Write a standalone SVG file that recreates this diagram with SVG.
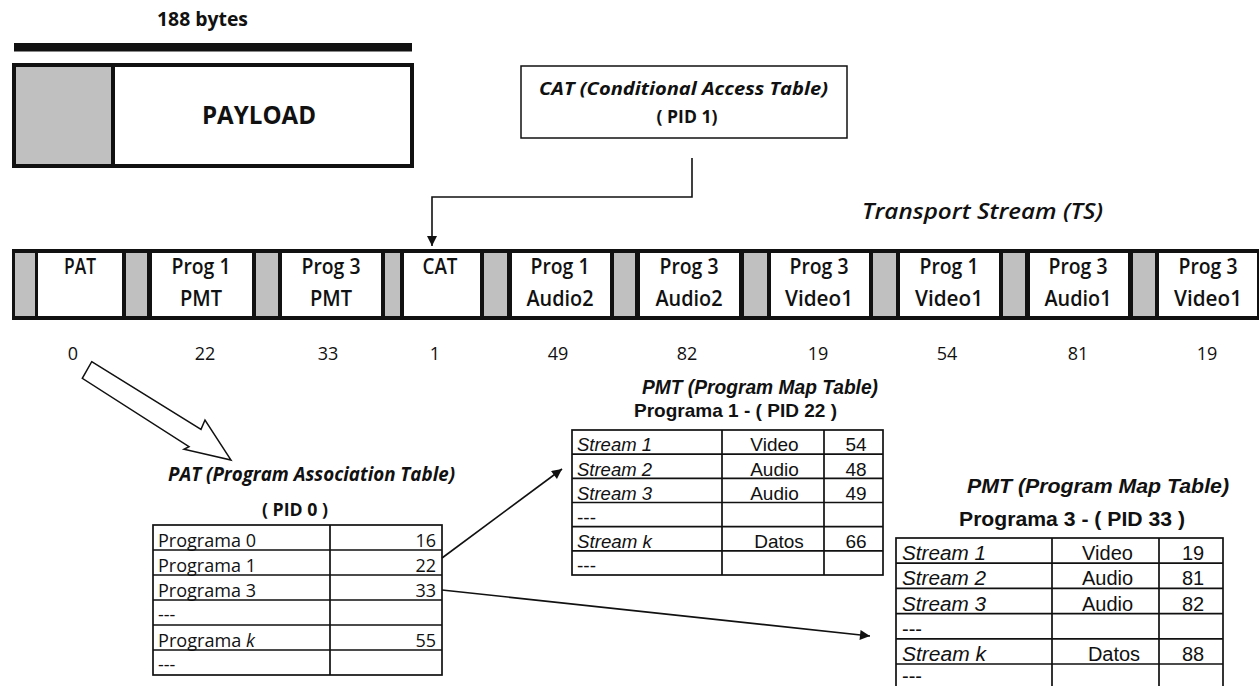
<svg xmlns="http://www.w3.org/2000/svg" width="1259" height="686" viewBox="0 0 1259 686">
  <defs>
    <style>
      .cal { font-family: "Open Sans", "Noto Sans", "DejaVu Sans", sans-serif; fill: #111; }
      .ari { font-family: "Liberation Sans", Arial, sans-serif; fill: #111; }
      .b { font-weight: 700; }
      .sb { font-weight: 600; }
      .i { font-style: italic; }
      .mid { text-anchor: middle; }
      .end { text-anchor: end; }
      .cell { font-size: 21px; }
      .pid { font-size: 18px; }
      .grid { fill: none; stroke: #111; stroke-width: 1.7; }
      .conn { fill: none; stroke: #111; stroke-width: 1.6; }
      .hdr { fill: #c0c0c0; }
      .pl { fill: #fff; }
    </style>
    <marker id="ah" viewBox="0 0 10 10" refX="10" refY="5" markerWidth="11" markerHeight="10" markerUnits="userSpaceOnUse" orient="auto">
      <path d="M0,0 L10,5 L0,10 z" fill="#111"/>
    </marker>
  </defs>

  <rect width="1259" height="686" fill="#fff"/>

  <!-- single 188-byte packet -->
  <g id="packet">
    <text class="cal b mid" x="202.5" y="26" font-size="19" textLength="91" lengthAdjust="spacingAndGlyphs">188 bytes</text>
    <rect x="14" y="43" width="398" height="8.5" fill="#111"/>
    <rect x="14" y="65" width="398" height="101" fill="#fff" stroke="#111" stroke-width="4"/>
    <rect x="16" y="67" width="97" height="97" class="hdr"/>
    <line x1="113" y1="65" x2="113" y2="166" stroke="#111" stroke-width="4"/>
    <text class="cal b mid" x="259" y="124" font-size="25" textLength="114" lengthAdjust="spacingAndGlyphs">PAYLOAD</text>
  </g>

  <!-- conditional access table -->
  <g id="cat-box">
    <rect x="521" y="66" width="326" height="72" fill="#fff" stroke="#111" stroke-width="1.5"/>
    <text class="cal b i mid" x="683.5" y="95" font-size="17" textLength="289" lengthAdjust="spacingAndGlyphs">CAT (Conditional Access Table)</text>
    <text class="cal b mid" x="687" y="123" font-size="17" textLength="61" lengthAdjust="spacingAndGlyphs">( PID 1)</text>
  </g>

  <g id="ts-label">
    <text class="cal sb i" x="862" y="219" font-size="22" textLength="241" lengthAdjust="spacingAndGlyphs">Transport Stream (TS)</text>
  </g>

  <!-- transport stream packets -->
  <g id="ts-row">
    <rect x="12" y="249" width="1250" height="71" fill="#111"/>
    <g class="hdr">
      <rect x="15" y="253" width="20" height="63"/>
      <rect x="126" y="253" width="21" height="63"/>
      <rect x="256" y="253" width="22" height="63"/>
      <rect x="385" y="253" width="15" height="63"/>
      <rect x="484" y="253" width="23" height="63"/>
      <rect x="614" y="253" width="21" height="63"/>
      <rect x="744" y="253" width="23" height="63"/>
      <rect x="873" y="253" width="23" height="63"/>
      <rect x="1003" y="253" width="22" height="63"/>
      <rect x="1133" y="253" width="22" height="63"/>
    </g>
    <g id="ts-pat">
      <rect class="pl" x="38" y="253" width="84" height="63"/>
      <text class="cal sb cell mid" x="80" y="274" textLength="32" lengthAdjust="spacingAndGlyphs">PAT</text>
    </g>
    <g id="ts-pmt1">
      <rect class="pl" x="152" y="253" width="100" height="63"/>
      <text class="cal sb cell mid" x="201" y="274" textLength="59" lengthAdjust="spacingAndGlyphs">Prog 1</text>
      <text class="cal sb cell mid" x="201" y="306" textLength="42" lengthAdjust="spacingAndGlyphs">PMT</text>
    </g>
    <g id="ts-pmt3">
      <rect class="pl" x="282" y="253" width="99" height="63"/>
      <text class="cal sb cell mid" x="331" y="274" textLength="59" lengthAdjust="spacingAndGlyphs">Prog 3</text>
      <text class="cal sb cell mid" x="331" y="306" textLength="42" lengthAdjust="spacingAndGlyphs">PMT</text>
    </g>
    <g id="ts-cat">
      <rect class="pl" x="404" y="253" width="76" height="63"/>
      <text class="cal sb cell mid" x="440" y="274" textLength="35" lengthAdjust="spacingAndGlyphs">CAT</text>
    </g>
    <g id="ts-p1a2">
      <rect class="pl" x="512" y="253" width="98" height="63"/>
      <text class="cal sb cell mid" x="560" y="274" textLength="59" lengthAdjust="spacingAndGlyphs">Prog 1</text>
      <text class="cal sb cell mid" x="560" y="306" textLength="67" lengthAdjust="spacingAndGlyphs">Audio2</text>
    </g>
    <g id="ts-p3a2">
      <rect class="pl" x="640" y="253" width="99" height="63"/>
      <text class="cal sb cell mid" x="689" y="274" textLength="59" lengthAdjust="spacingAndGlyphs">Prog 3</text>
      <text class="cal sb cell mid" x="689" y="306" textLength="67" lengthAdjust="spacingAndGlyphs">Audio2</text>
    </g>
    <g id="ts-p3v1a">
      <rect class="pl" x="771" y="253" width="98" height="63"/>
      <text class="cal sb cell mid" x="819" y="274" textLength="59" lengthAdjust="spacingAndGlyphs">Prog 3</text>
      <text class="cal sb cell mid" x="819" y="306" textLength="68" lengthAdjust="spacingAndGlyphs">Video1</text>
    </g>
    <g id="ts-p1v1">
      <rect class="pl" x="900" y="253" width="99" height="63"/>
      <text class="cal sb cell mid" x="949" y="274" textLength="59" lengthAdjust="spacingAndGlyphs">Prog 1</text>
      <text class="cal sb cell mid" x="949" y="306" textLength="68" lengthAdjust="spacingAndGlyphs">Video1</text>
    </g>
    <g id="ts-p3a1">
      <rect class="pl" x="1030" y="253" width="98" height="63"/>
      <text class="cal sb cell mid" x="1078" y="274" textLength="59" lengthAdjust="spacingAndGlyphs">Prog 3</text>
      <text class="cal sb cell mid" x="1078" y="306" textLength="67" lengthAdjust="spacingAndGlyphs">Audio1</text>
    </g>
    <g id="ts-p3v1b">
      <rect class="pl" x="1159" y="253" width="98" height="63"/>
      <text class="cal sb cell mid" x="1208" y="274" textLength="59" lengthAdjust="spacingAndGlyphs">Prog 3</text>
      <text class="cal sb cell mid" x="1208" y="306" textLength="68" lengthAdjust="spacingAndGlyphs">Video1</text>
    </g>
  </g>

  <!-- PID of each packet -->
  <g id="pid-row" class="cal pid mid">
    <text x="73" y="360">0</text>
    <text x="205" y="360">22</text>
    <text x="328" y="360">33</text>
    <text x="435" y="360">1</text>
    <text x="558" y="360">49</text>
    <text x="687" y="360">82</text>
    <text x="818" y="360">19</text>
    <text x="947" y="360">54</text>
    <text x="1078" y="360">81</text>
    <text x="1207" y="360">19</text>
  </g>

  <!-- program association table -->
  <g id="pat-table">
    <text class="cal b i mid" x="311.5" y="481" font-size="19" textLength="287" lengthAdjust="spacingAndGlyphs">PAT (Program Association Table)</text>
    <text class="cal b mid" x="295" y="516" font-size="18" textLength="66" lengthAdjust="spacingAndGlyphs">( PID 0 )</text>
    <rect class="grid" x="153" y="525" width="289" height="150"/>
    <path class="grid" d="M330,525V675 M153,550H442 M153,575H442 M153,600H442 M153,625H442 M153,650H442"/>
    <g class="cal" font-size="18">
      <text x="158" y="547" textLength="98" lengthAdjust="spacingAndGlyphs">Programa 0</text>
      <text x="158" y="572" textLength="98" lengthAdjust="spacingAndGlyphs">Programa 1</text>
      <text x="158" y="597" textLength="98" lengthAdjust="spacingAndGlyphs">Programa 3</text>
      <text x="158" y="621">---</text>
      <text x="158" y="647" textLength="97" lengthAdjust="spacingAndGlyphs">Programa <tspan font-style="italic">k</tspan></text>
      <text x="158" y="671">---</text>
      <text class="end" x="436" y="547">16</text>
      <text class="end" x="436" y="572">22</text>
      <text class="end" x="436" y="597">33</text>
      <text class="end" x="436" y="647">55</text>
    </g>
  </g>

  <!-- program map table, program 1 -->
  <g id="pmt-prog1">
    <text class="ari b i mid" x="760" y="394" font-size="21" textLength="236" lengthAdjust="spacingAndGlyphs">PMT (Program Map Table)</text>
    <text class="ari b mid" x="735.5" y="417" font-size="19" textLength="203" lengthAdjust="spacingAndGlyphs">Programa 1 - ( PID 22 )</text>
    <rect class="grid" x="572" y="430" width="311" height="145"/>
    <path class="grid" d="M722,430V575 M824,430V575 M572,454.2H883 M572,478.3H883 M572,502.5H883 M572,526.7H883 M572,550.8H883"/>
    <g class="ari" font-size="19">
      <text class="i" x="577" y="451" textLength="75" lengthAdjust="spacingAndGlyphs">Stream 1</text>
      <text class="i" x="577" y="475.5" textLength="75" lengthAdjust="spacingAndGlyphs">Stream 2</text>
      <text class="i" x="577" y="499.5" textLength="75" lengthAdjust="spacingAndGlyphs">Stream 3</text>
      <text x="577" y="523.5">---</text>
      <text class="i" x="577" y="548" textLength="75" lengthAdjust="spacingAndGlyphs">Stream k</text>
      <text x="577" y="572">---</text>
      <text class="mid" x="774.5" y="451">Video</text>
      <text class="mid" x="774.5" y="475.5">Audio</text>
      <text class="mid" x="774.5" y="499.5">Audio</text>
      <text class="mid" x="779" y="548">Datos</text>
      <text class="mid" x="856" y="451">54</text>
      <text class="mid" x="856" y="475.5">48</text>
      <text class="mid" x="856" y="499.5">49</text>
      <text class="mid" x="856" y="548">66</text>
    </g>
  </g>

  <!-- program map table, program 3 -->
  <g id="pmt-prog3">
    <text class="ari b i mid" x="1098" y="493" font-size="21" textLength="262" lengthAdjust="spacingAndGlyphs">PMT (Program Map Table)</text>
    <text class="ari b mid" x="1072" y="526" font-size="20" textLength="226" lengthAdjust="spacingAndGlyphs">Programa 3 - ( PID 33 )</text>
    <rect class="grid" x="896" y="538" width="327" height="152"/>
    <path class="grid" d="M1052,538V690 M1159,538V690 M896,563.2H1223 M896,588.4H1223 M896,613.6H1223 M896,638.8H1223 M896,664H1223"/>
    <g class="ari" font-size="20">
      <text class="i" x="902" y="560" textLength="84" lengthAdjust="spacingAndGlyphs">Stream 1</text>
      <text class="i" x="902" y="585" textLength="84" lengthAdjust="spacingAndGlyphs">Stream 2</text>
      <text class="i" x="902" y="610.5" textLength="84" lengthAdjust="spacingAndGlyphs">Stream 3</text>
      <text x="902" y="635.5">---</text>
      <text class="i" x="902" y="661" textLength="84" lengthAdjust="spacingAndGlyphs">Stream k</text>
      <text x="902" y="683">---</text>
      <text class="mid" x="1107.5" y="560">Video</text>
      <text class="mid" x="1107.5" y="585">Audio</text>
      <text class="mid" x="1107.5" y="610.5">Audio</text>
      <text class="mid" x="1114" y="661">Datos</text>
      <text class="mid" x="1193" y="560">19</text>
      <text class="mid" x="1193" y="585">81</text>
      <text class="mid" x="1193" y="610.5">82</text>
      <text class="mid" x="1193" y="661">88</text>
    </g>
  </g>

  <g id="connectors">
    <polyline class="conn" points="692,158 692,197 432,197 432,246" marker-end="url(#ah)"/>
    <polygon points="91.7,361.7 201,429.3 205,420 231,460 184,449.3 189,446.7 82.3,378.3" fill="#fff" stroke="#111" stroke-width="1.5" stroke-linejoin="miter"/>
    <line class="conn" x1="442" y1="558" x2="562" y2="469" marker-end="url(#ah)"/>
    <line class="conn" x1="442" y1="590" x2="870" y2="636" marker-end="url(#ah)"/>
  </g>
</svg>
